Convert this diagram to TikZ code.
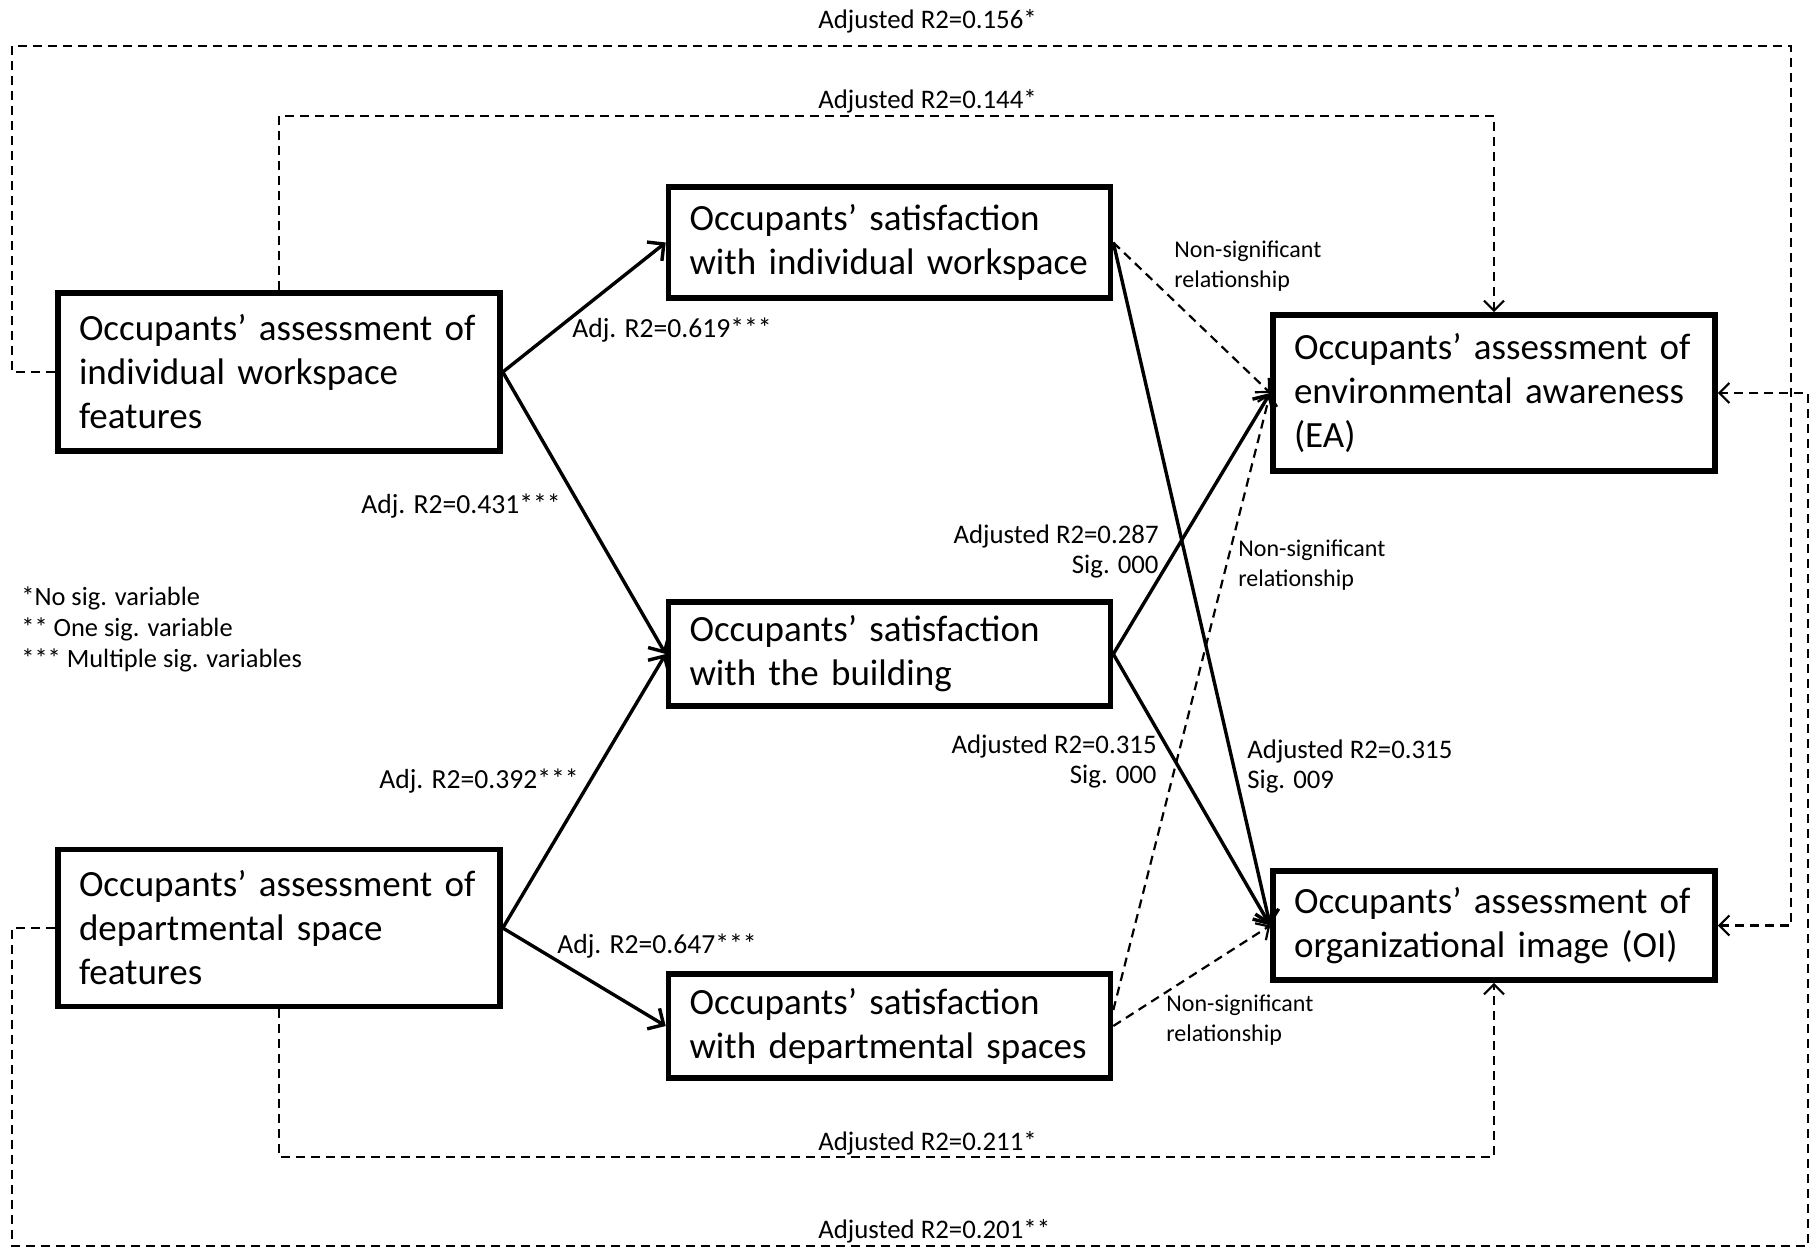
\documentclass[tikz,border=0pt]{standalone}
\usepackage{fontspec}
\setmainfont{Carlito}
\usetikzlibrary{arrows.meta}
\begin{document}
\begin{tikzpicture}[x=0.5pt,y=-0.5pt,
  box/.style={draw, line width=2.8pt, minimum width=221pt, text width=200pt, inner xsep=10.5pt, inner ysep=0pt, align=left, font=\fontsize{18.5}{22}\selectfont, fill=white},
  lab/.style={font=\fontsize{13.4}{15}\selectfont, inner sep=0pt},
  adj/.style={font=\fontsize{13.8}{15}\selectfont, inner sep=0pt},
  nsl/.style={font=\fontsize{12}{15}\selectfont, inner sep=0pt, align=left},
  sol/.style={line width=1.7pt, -{Straight Barb[length=6pt,width=12pt]}},
  dsh/.style={line width=1.1pt, dash pattern=on 4.5pt off 3pt, -{Straight Barb[length=5pt,width=10pt]}},
]
\useasboundingbox (0,0) rectangle (1814,1252);

% boxes
\node[box, minimum height=79pt] (iw) at (279,372) {\mbox{Occupants’ assessment of}\\ individual workspace\\ features};
\node[box, minimum height=78.5pt] (ds) at (279,928) {\mbox{Occupants’ assessment of}\\ departmental space\\ features};
\node[box, minimum height=55.5pt] (siw) at (889.5,242.5) {Occupants’ satisfaction\\ \mbox{with individual workspace}};
\node[box, minimum height=52pt] (sb) at (889.5,654) {Occupants’ satisfaction\\ with the building};
\node[box, minimum height=52pt] (sds) at (889.5,1026) {Occupants’ satisfaction\\ \mbox{with departmental spaces}};
\node[box, minimum height=78pt] (ea) at (1494,393) {\mbox{Occupants’ assessment of}\\ \mbox{environmental awareness}\\ (EA)};
\node[box, minimum height=54.5pt] (oi) at (1494,925.5) {\mbox{Occupants’ assessment of}\\ \mbox{organizational image (OI)}};

% solid connectors
\draw[sol] (iw.east) -- (siw.west);
\draw[sol] (iw.east) -- (sb.west);
\draw[sol] (ds.east) -- (sb.west);
\draw[sol] (ds.east) -- (sds.west);
\draw[sol] (siw.east) -- (oi.west);
\draw[sol] (sb.east) -- (ea.west);
\draw[sol] (sb.east) -- (oi.west);

% dashed connectors
\draw[dsh] (siw.east) -- (ea.west);
\draw[dsh] ([yshift=8pt]sds.east) -- (ea.west);
\draw[dsh] (sds.east) -- (oi.west);
\draw[dsh] (iw.west) -| (12,46) -| (1791,925.5) -- (oi.east);
\draw[dsh] (ds.west) -| (12,1246) -| (1808,393) -- (ea.east);
\draw[dsh] (iw.north) |- (1494,116) -- (ea.north);
\draw[dsh] (ds.south) |- (1494,1157) -- (oi.south);

% labels
\node[lab, anchor=west] (l156) at (818,21) {Adjusted R2=0.156*};
\node[lab, anchor=west] (l144) at (818,101) {Adjusted R2=0.144*};
\node[lab, anchor=west] (l211) at (818,1143) {Adjusted R2=0.211*};
\node[lab, anchor=west] (l201) at (818,1231) {Adjusted R2=0.201**};
\node[adj, anchor=west] (l619) at (572,330) {Adj. R2=0.619***};
\node[adj, anchor=east] (l431) at (561,506) {Adj. R2=0.431***};
\node[adj, anchor=east] (l392) at (579,781) {Adj. R2=0.392***};
\node[adj, anchor=west] (l647) at (557,946) {Adj. R2=0.647***};
\node[nsl, anchor=west] (ns1) at (1174,266) {Non-significant\\relationship};
\node[lab, anchor=east, align=right] (l287) at (1159,551) {Adjusted R2=0.287\\Sig. 000};
\node[nsl, anchor=west] (ns2) at (1238,565) {Non-significant\\relationship};
\node[lab, anchor=east, align=right] (l315a) at (1157,761) {Adjusted R2=0.315\\Sig. 000};
\node[lab, anchor=west, align=left] (l315b) at (1247,766) {Adjusted R2=0.315\\Sig. 009};
\node[nsl, anchor=west] (ns3) at (1166,1020) {Non-significant\\relationship};
\node[adj, anchor=west, align=left, font=\fontsize{13.2}{15.5}\selectfont] (leg) at (21,629) {*No sig. variable\\** One sig. variable\\*** Multiple sig. variables};
\end{tikzpicture}
\end{document}
